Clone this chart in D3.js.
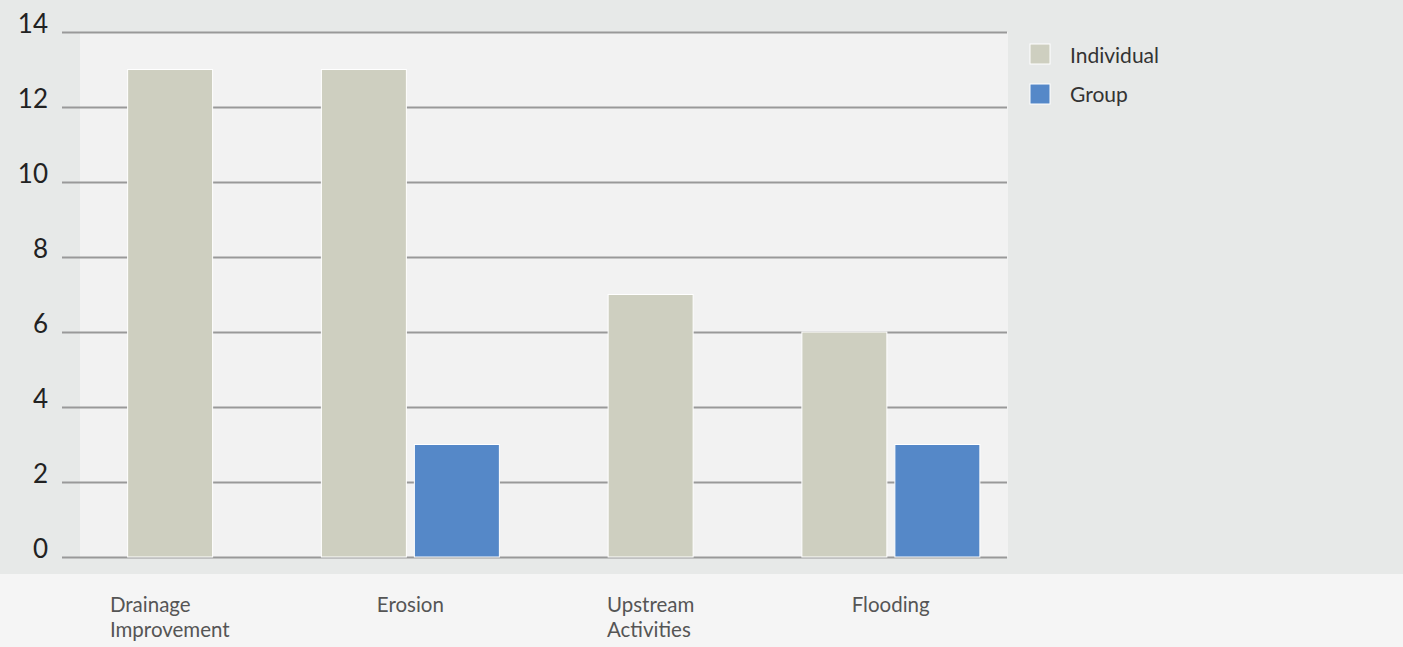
<!DOCTYPE html>
<html>
<head>
<meta charset="utf-8">
<script src="https://cdn.jsdelivr.net/npm/d3@7"></script>
<style>
  html, body { margin: 0; padding: 0; background: #f5f5f5; }
  svg { display: block; }
  text { font-family: Lato, "Noto Sans", sans-serif; }
</style>
</head>
<body>
<svg id="chart" width="1403" height="647"></svg>
<script>
const categories = ["Drainage Improvement", "Erosion", "Upstream Activities", "Flooding"];
const categoryLines = [["Drainage", "Improvement"], ["Erosion"], ["Upstream", "Activities"], ["Flooding"]];
const seriesNames = ["Individual", "Group"];
const individualValues = [13, 13, 7, 6];
const groupValues = [0, 3, 0, 3];
const yTicks = [0, 2, 4, 6, 8, 10, 12, 14];
const colors = ["#cecfc0", "#5588c8"];

const W = 1403, H = 647;
const svg = d3.select("#chart");

// backgrounds
svg.append("rect").attr("x", 0).attr("y", 0).attr("width", W).attr("height", 574).attr("fill", "#e7e9e8");
svg.append("rect").attr("x", 0).attr("y", 574).attr("width", W).attr("height", H - 574).attr("fill", "#f5f5f5");

const y = d3.scaleLinear().domain([0, 14]).range([557, 32]);
const x = d3.scaleBand().domain(categories).range([50, 1011]);

// plot background
svg.append("rect").attr("x", 80).attr("y", y(14)).attr("width", 1008 - 80).attr("height", y(0) - y(14)).attr("fill", "#f2f2f2");

// gridlines + tick labels
const yAxis = d3.axisLeft(y).tickValues(yTicks).tickSize(-(1007 - 62)).tickPadding(14).tickFormat(d3.format("d"));
const gAxis = svg.append("g").attr("transform", "translate(62,0)").call(yAxis);
gAxis.select(".domain").remove();
gAxis.selectAll(".tick line").attr("stroke", "#999").attr("stroke-width", 2);
gAxis.selectAll(".tick text")
  .attr("fill", "#222")
  .attr("font-size", 26)
  .attr("dy", null)
  .attr("y", 0);

// bars
const data = categories.map((c, i) => ({
  cat: c,
  lines: categoryLines[i],
  vals: [individualValues[i], groupValues[i]]
}));

const barW = 85, gap = 8;
const gBars = svg.append("g");
const labels = [];
data.forEach(d => {
  const present = d.vals.map((v, k) => ({v, k})).filter(o => o.v > 0);
  const totalW = present.length * barW + (present.length - 1) * gap;
  const cx = x(d.cat) + x.bandwidth() / 2;
  gBars.selectAll(null).data(present).enter().append("rect")
    .attr("x", (o, j) => cx - totalW / 2 + j * (barW + gap))
    .attr("y", o => y(o.v))
    .attr("width", barW)
    .attr("height", o => y(0) - y(o.v))
    .attr("fill", o => colors[o.k])
    .attr("stroke", "#ffffff")
    .attr("stroke-width", 1);
  const t = svg.append("text")
    .attr("x", cx)
    .attr("y", 612)
    .attr("text-anchor", "start")
    .attr("fill", "#555")
    .attr("font-size", 20.5);
  d.lines.forEach((ln, li) => {
    t.append("tspan").attr("x", cx).attr("dy", li === 0 ? 0 : 25).text(ln);
  });
  labels.push({node: t.node(), cx});
});

// center each label block on its column, lines left-aligned
labels.forEach(l => {
  const bb = l.node.getBBox();
  d3.select(l.node).selectAll("tspan").attr("x", l.cx - bb.width / 2);
});

// legend
const legend = svg.append("g");
seriesNames.forEach((s, i) => {
  legend.append("rect")
    .attr("x", 1030).attr("y", 44 + i * 40)
    .attr("width", 20).attr("height", 20)
    .attr("fill", colors[i]).attr("stroke", "#fff").attr("stroke-width", 1);
  legend.append("text")
    .attr("x", 1070).attr("y", 63 + i * 39)
    .attr("fill", "#333").attr("font-size", 21)
    .text(s);
});
</script>
</body>
</html>
